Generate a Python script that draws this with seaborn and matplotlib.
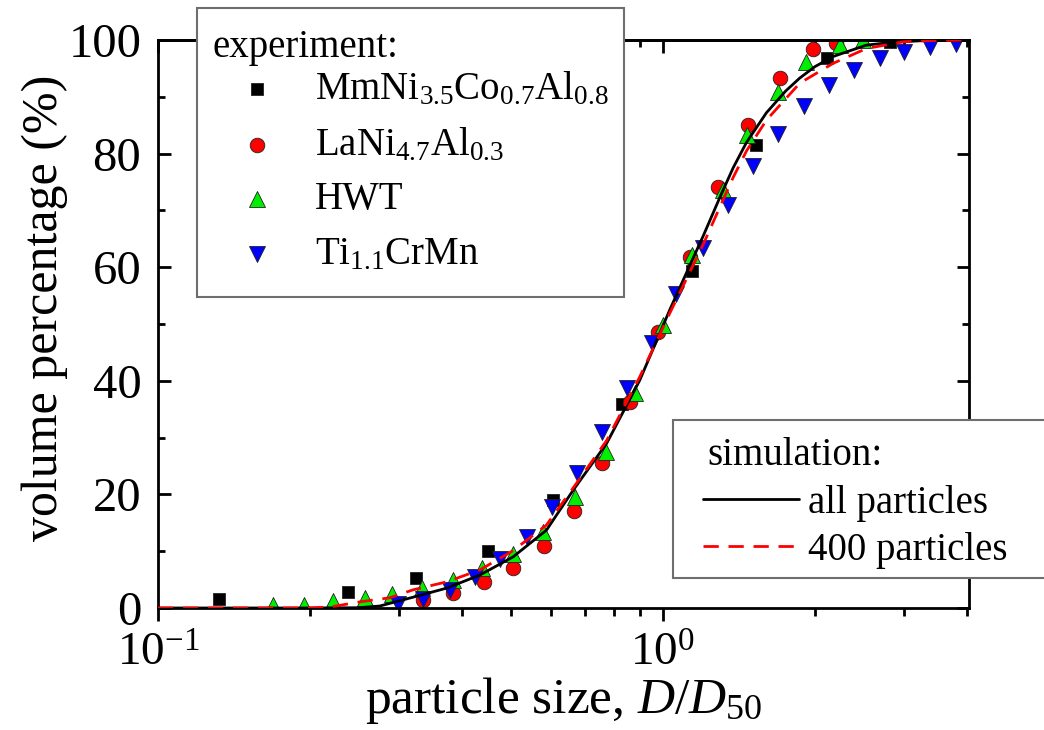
import numpy as np
import pandas as pd
import matplotlib
matplotlib.use("Agg")
import matplotlib.pyplot as plt
import seaborn as sns
from matplotlib.patches import Rectangle
from matplotlib.ticker import FixedLocator, FixedFormatter, NullFormatter

# ---------------- data ----------------
mm_x = [0.132, 0.2375, 0.324, 0.451, 0.607, 0.829, 1.140, 1.528, 2.11, 2.82]
mm_y = [1.5, 2.8, 5.2, 10.0, 19.0, 35.9, 59.4, 81.5, 96.8, 99.7]

la_x = [0.335, 0.384, 0.442, 0.504, 0.582, 0.667, 0.756, 0.861, 0.979, 1.131,
        1.288, 1.475, 1.705, 1.98, 2.20]
la_y = [1.4, 2.6, 4.5, 7.0, 10.9, 17.0, 25.6, 36.3, 48.6, 61.8,
        74.2, 85.0, 93.3, 98.4, 99.5]

hwt_x = [0.169, 0.195, 0.222, 0.257, 0.291, 0.333, 0.384, 0.438, 0.505, 0.578,
         0.669, 0.771, 0.880, 1.0, 1.140, 1.316, 1.465, 1.69, 1.92, 2.24, 2.49]
hwt_y = [0.5, 0.6, 1.2, 1.8, 2.5, 3.5, 4.9, 7.0, 9.5, 13.4,
         19.6, 27.5, 37.8, 49.8, 62.1, 73.6, 83.3, 90.9, 96.2, 99.1, 100.0]

ti_x = [0.299, 0.335, 0.379, 0.424, 0.476, 0.537, 0.602, 0.675, 0.756, 0.848,
        0.950, 1.064, 1.202, 1.346, 1.51, 1.69, 1.90, 2.135, 2.39, 2.69,
        3.01, 3.38, 3.80]
ti_y = [0.7, 1.5, 3.2, 5.5, 8.7, 12.5, 17.8, 23.8, 30.9, 38.7,
        46.7, 55.3, 63.3, 71.0, 77.8, 83.5, 88.3, 92.1, 94.8, 96.8,
        97.9, 98.8, 99.3]

sim_all_x = [0.10, 0.20, 0.25, 0.275, 0.32, 0.373, 0.434, 0.505, 0.588, 0.665,
             0.774, 0.90, 1.032, 1.14, 1.202, 1.30, 1.378, 1.465, 1.604, 1.75,
             1.867, 2.0, 2.175, 2.53, 2.85, 3.3, 4.04]
sim_all_y = [0.0, 0.0, 0.05, 0.35, 1.9, 3.5, 5.8, 9.0, 13.7, 20.8,
             29.0, 40.1, 52.5, 61.0, 65.5, 72.5, 77.5, 82.0, 87.2, 91.0,
             93.3, 95.3, 97.1, 99.1, 99.6, 99.9, 100.0]

sim_400_x = [0.10, 0.20, 0.22, 0.252, 0.288, 0.32, 0.373, 0.434, 0.505, 0.588,
             0.675, 0.774, 0.90, 1.032, 1.202, 1.30, 1.378, 1.465, 1.604, 1.867,
             2.175, 2.53, 3.0, 3.4, 4.04]
sim_400_y = [0.0, 0.0, 0.2, 1.1, 1.8, 3.2, 4.6, 6.7, 10.1, 14.6,
             22.0, 29.5, 40.7, 51.9, 64.0, 70.8, 75.8, 80.5, 85.9, 92.4,
             95.9, 98.5, 99.7, 99.9, 100.0]

series_labels = [r"MmNi$_{3.5}$Co$_{0.7}$Al$_{0.8}$",
                 r"LaNi$_{4.7}$Al$_{0.3}$",
                 "HWT",
                 r"Ti$_{1.1}$CrMn"]
sim_labels = ["all particles", "400 particles"]
legend_titles = ["experiment:", "simulation:"]

# ---------------- style ----------------
sns.set_theme(style="ticks")
plt.rcParams["font.family"] = ["Liberation Serif", "DejaVu Serif"]
plt.rcParams["mathtext.fontset"] = "custom"
plt.rcParams["mathtext.rm"] = "Liberation Serif"
plt.rcParams["mathtext.it"] = "Liberation Serif:italic"
plt.rcParams["mathtext.bf"] = "Liberation Serif:bold"
for k in ["text.color", "axes.labelcolor", "xtick.color", "ytick.color",
          "axes.edgecolor"]:
    plt.rcParams[k] = "black"

W, H = 1044, 730
fig = plt.figure(figsize=(W / 100, H / 100), dpi=100)
L, R, T, B = 158, 969, 40, 608
ax = fig.add_axes([L / W, 1 - B / H, (R - L) / W, (B - T) / H])

edge = "#222222"
sns.scatterplot(x=mm_x, y=mm_y, marker="s", s=9.2 ** 2, color="black",
                edgecolor=edge, linewidth=0.6, label=series_labels[0], ax=ax, zorder=2)
sns.scatterplot(x=la_x, y=la_y, marker="o", s=10.5 ** 2, color="#ff0000",
                edgecolor=edge, linewidth=0.6, label=series_labels[1], ax=ax, zorder=2)
sns.scatterplot(x=hwt_x, y=hwt_y, marker="^", s=11.5 ** 2, color="#00ee00",
                edgecolor=edge, linewidth=0.6, label=series_labels[2], ax=ax, zorder=2)
sns.scatterplot(x=ti_x, y=ti_y, marker="v", s=11.5 ** 2, color="#0000ff",
                edgecolor=edge, linewidth=0.6, label=series_labels[3], ax=ax, zorder=2)
sns.lineplot(x=sim_all_x, y=sim_all_y, color="black", linewidth=2.0,
             label=sim_labels[0], ax=ax, zorder=3)
sns.lineplot(x=sim_400_x, y=sim_400_y, color="#ff0000", linewidth=2.0,
             linestyle=(0, (5.5, 3.5)), label=sim_labels[1], ax=ax, zorder=3)

handles, labels = ax.get_legend_handles_labels()
if ax.get_legend() is not None:
    ax.get_legend().remove()

ax.set_xscale("log")
ax.set_xlim(0.1, 4.04)
ax.set_ylim(0, 100)

# ticks
minor_x = [0.2, 0.3, 0.4, 0.5, 0.6, 0.7, 0.8, 0.9, 2, 3, 4]
ax.xaxis.set_major_locator(FixedLocator([0.1, 1.0]))
ax.xaxis.set_major_formatter(FixedFormatter([r"$10^{-1}$", r"$10^{0}$"]))
ax.xaxis.set_minor_locator(FixedLocator(minor_x))
ax.xaxis.set_minor_formatter(NullFormatter())
ax.yaxis.set_major_locator(FixedLocator([0, 20, 40, 60, 80, 100]))
ax.yaxis.set_minor_locator(FixedLocator([10, 30, 50, 70, 90]))

ax.tick_params(axis="x", which="major", direction="out", length=9, width=2,
               labelsize=34, pad=9)
ax.tick_params(axis="x", which="minor", direction="out", length=5.5, width=2)
ax.tick_params(axis="y", which="major", direction="in", length=9, width=2,
               labelsize=35, pad=12, left=True, right=True)
ax.tick_params(axis="y", which="minor", direction="in", length=5, width=2,
               left=True, right=True)

sec = ax.secondary_xaxis("top")
sec.xaxis.set_major_locator(FixedLocator([0.1, 1.0]))
sec.xaxis.set_minor_locator(FixedLocator(minor_x))
sec.xaxis.set_major_formatter(NullFormatter())
sec.xaxis.set_minor_formatter(NullFormatter())
sec.tick_params(axis="x", which="major", direction="in", length=9, width=2)
sec.tick_params(axis="x", which="minor", direction="in", length=5, width=2)
sec.spines["top"].set_linewidth(2)

for s in ax.spines.values():
    s.set_linewidth(2)
    s.set_color("black")

ax.set_xlabel(r"particle size, $D/D_{50}$", fontsize=37)
ax.xaxis.label.set_va("baseline")
ax.xaxis.set_label_coords(0.5, (B - 713) / (B - T))
ax.set_ylabel("volume percentage (%)", fontsize=36)
ax.yaxis.label.set_va("center")
ax.yaxis.set_label_coords((45 - L) / (R - L), (B - 308) / (B - T))

# legend boxes
box_kw = dict(transform=fig.transFigure, facecolor="white", edgecolor="#6e6e6e",
              linewidth=1.5, zorder=4)
fig.add_artist(Rectangle((197 / W, 1 - 297 / H), (624 - 197) / W, (297 - 8) / H, **box_kw))
fig.add_artist(Rectangle((673 / W, 1 - 578 / H), (1060 - 673) / W, (578 - 420) / H, **box_kw))

fs = 28
fig.text(213 / W, 1 - 57 / H, legend_titles[0], fontsize=fs, ha="left",
         va="baseline", zorder=6)
fig.text(707 / W, 1 - 465 / H, legend_titles[1], fontsize=fs, ha="left",
         va="baseline", zorder=6)

leg1 = fig.legend(handles[:4], labels[:4], loc="upper left",
                  bbox_to_anchor=(212 / W, 1 - 71 / H), bbox_transform=fig.transFigure,
                  frameon=False, fontsize=fs,
                  handlelength=2.33, handletextpad=0.32, borderpad=0.0,
                  labelspacing=0.45, borderaxespad=0)
leg1.set_zorder(5)
leg2 = fig.legend(handles[4:6], labels[4:6], loc="upper left",
                  bbox_to_anchor=(703 / W, 1 - 485 / H), bbox_transform=fig.transFigure,
                  frameon=False, fontsize=fs,
                  handlelength=2.46, handletextpad=0.25, borderpad=0.0,
                  labelspacing=0.25, borderaxespad=0)
leg2.set_zorder(5)

fig.savefig("out.png", dpi=100)
